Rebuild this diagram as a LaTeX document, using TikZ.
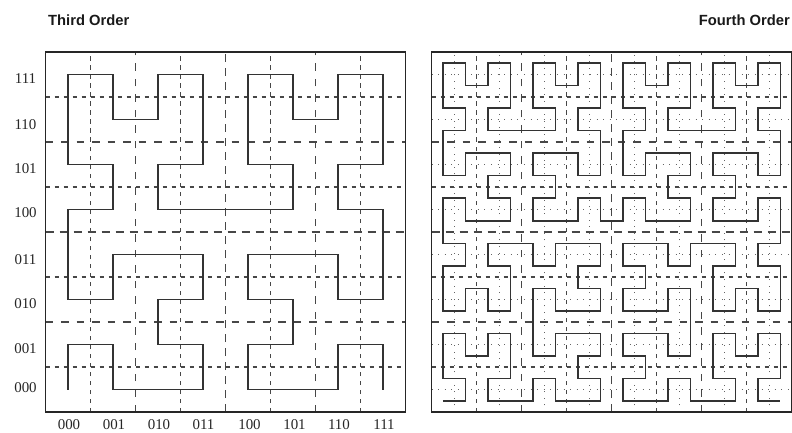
\documentclass[tikz,border=0pt]{standalone}
\usepackage{fontspec}
\setmainfont{Liberation Serif}
\newfontfamily\titlefont{Liberation Sans}
\usetikzlibrary{lindenmayersystems}
\pgfdeclarelindenmayersystem{Hilbert curve}{
  \rule{A -> +BF-AFA-FB+}
  \rule{B -> -AF+BFB+FA-}
}
\begin{document}
\begin{tikzpicture}[x=1bp,y=1bp,
  frame/.style={line width=1.5bp, draw=black!85},
  curve/.style={line width=1.5bp, draw=black!80, line join=miter},
  gridA/.style={line width=1.2bp, draw=black!72, dash pattern=on 8bp off 6bp},
  gridB/.style={line width=1.2bp, draw=black!72, dash pattern=on 7.5bp off 8bp},
  gridC/.style={line width=1.2bp, draw=black!72, dash pattern=on 4.5bp off 4.5bp},
  gridD/.style={line width=1bp, draw=black!60, dash pattern=on 1bp off 5.6bp},
  ax/.style={font=\fontsize{15}{18}\selectfont, text=black!85, inner sep=0pt},
  ttl/.style={font=\titlefont\bfseries\fontsize{14.8}{17}\selectfont, inner sep=0pt, text=black!90}
]
\useasboundingbox (0,0) rectangle (792,432);

% ---------- third order grid ----------
\foreach \k in {1,3,5,7} {
  \draw[gridC] ({45.7+45*\k},20) -- ({45.7+45*\k},380);
  \draw[gridC] (45.7,{20+45*\k}) -- (405.7,{20+45*\k});
}
\foreach \k in {2,6} {
  \draw[gridB] ({45.7+45*\k},20) -- ({45.7+45*\k},380);
  \draw[gridB] (45.7,{20+45*\k}) -- (405.7,{20+45*\k});
}
\draw[gridA] (225.7,20) -- (225.7,380);
\draw[gridA] (45.7,200) -- (405.7,200);

% ---------- fourth order grid ----------
\foreach \k in {1,3,...,15} {
  \draw[gridD] ({431.5+22.5*\k},20) -- ({431.5+22.5*\k},380);
  \draw[gridD] (431.5,{20+22.5*\k}) -- (791.5,{20+22.5*\k});
}
\foreach \k in {2,6,10,14} {
  \draw[gridC] ({431.5+22.5*\k},20) -- ({431.5+22.5*\k},380);
  \draw[gridC] (431.5,{20+22.5*\k}) -- (791.5,{20+22.5*\k});
}
\foreach \k in {4,12} {
  \draw[gridB] ({431.5+22.5*\k},20) -- ({431.5+22.5*\k},380);
  \draw[gridB] (431.5,{20+22.5*\k}) -- (791.5,{20+22.5*\k});
}
\draw[gridA] (611.5,20) -- (611.5,380);
\draw[gridA] (431.5,200) -- (791.5,200);

% ---------- curves ----------
\begin{scope}[shift={(68.2,42.5)}]
  \draw[curve, lindenmayer system={Hilbert curve, axiom=A, order=3, step=45bp, angle=90}] (0,0) lindenmayer system;
\end{scope}
\begin{scope}[shift={(442.75,31.25)}]
  \draw[curve, lindenmayer system={Hilbert curve, axiom=A, order=4, step=22.5bp, angle=90}] (0,0) lindenmayer system;
\end{scope}

% ---------- frames ----------
\draw[frame] (45.7,20) rectangle (405.7,380);
\draw[frame] (431.5,20) rectangle (791.5,380);

% ---------- labels ----------
\node[ax] (y7) at (25.5,353) {111};
\node[ax] (y6) at (25.5,307) {110};
\node[ax] (y5) at (25.5,263) {101};
\node[ax] (y4) at (25.5,219) {100};
\node[ax] (y3) at (25.5,172.5) {011};
\node[ax] (y2) at (25.5,128) {010};
\node[ax] (y1) at (25.5,83) {001};
\node[ax] (y0) at (25.5,44) {000};

\node[ax] (x0) at (69,7.5) {000};
\node[ax] (x1) at (114,7.5) {001};
\node[ax] (x2) at (159,7.5) {010};
\node[ax] (x3) at (203.5,7.5) {011};
\node[ax] (x4) at (249.5,7.5) {100};
\node[ax] (x5) at (294.5,7.5) {101};
\node[ax] (x6) at (339,7.5) {110};
\node[ax] (x7) at (384,7.5) {111};

\node[ttl, anchor=base west] (t3) at (48,406.3) {Third Order};
\node[ttl, anchor=base east] (t4) at (790,406.3) {Fourth Order};
\end{tikzpicture}
\end{document}
